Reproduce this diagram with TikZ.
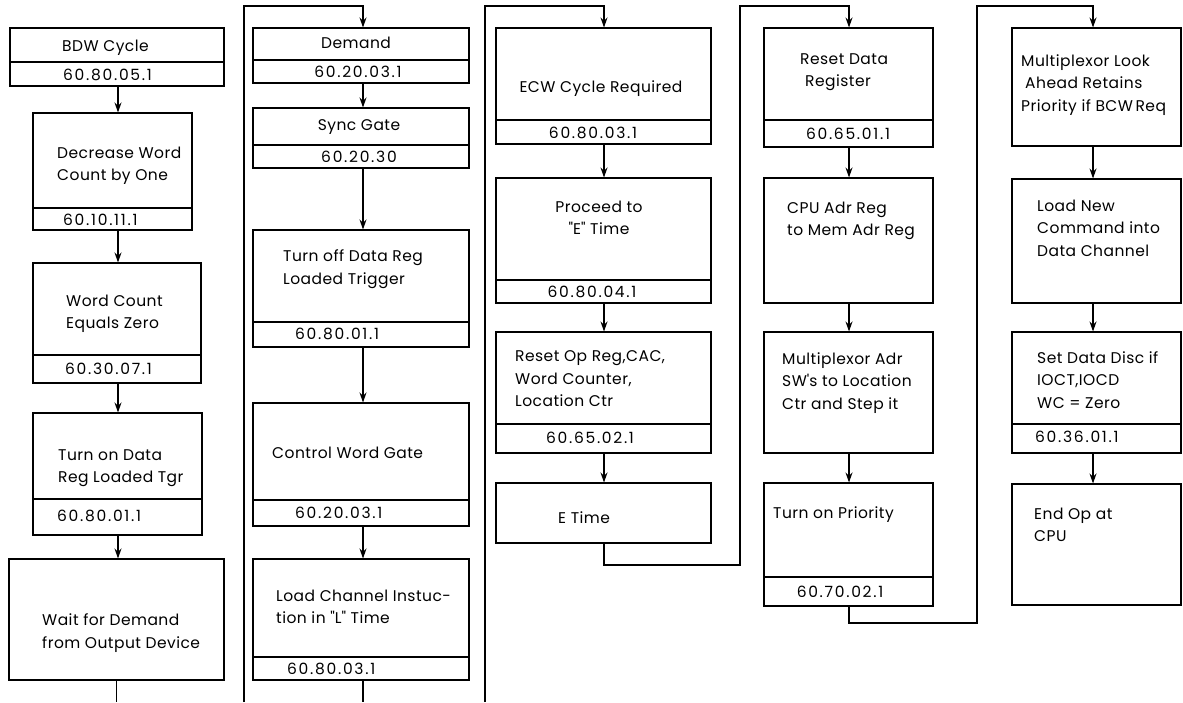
\documentclass[tikz,border=0pt]{standalone}
\usepackage{fontspec}
\setmainfont{Poppins}[LetterSpace=3]
\newfontfamily\numfamily{Poppins}[LetterSpace=11]
\usetikzlibrary{arrows.meta,fit}
\newcommand{\boxfont}{\fontsize{15.5}{22.5}\selectfont}
\newcommand{\numfont}{\numfamily\fontsize{15.5}{22.5}\selectfont}
\begin{document}
\begin{tikzpicture}[x=1pt,y=-1pt,
  box/.style={draw,line width=1.1pt,inner sep=0pt},
  lbl/.style={anchor=west,inner sep=0pt,align=left,font=\boxfont},
  clbl/.style={inner sep=0pt,align=center,font=\boxfont},
  nlbl/.style={anchor=west,inner sep=0pt,font=\numfont},
  cnlbl/.style={inner sep=0pt,font=\numfont},
  wire/.style={line width=1.1pt},
  arr/.style={wire,-{Stealth[length=10pt,width=7pt]}}]
\useasboundingbox (0,0) rectangle (1183,702);

% column axes for the vertical connectors
\coordinate (c1) at (118,0);
\coordinate (c2) at (363,0);
\coordinate (c3) at (604,0);
\coordinate (c4) at (849,0);
\coordinate (c5) at (1093,0);
\coordinate (bot) at (0,702);

% ---------- column 1 ----------
\node[box,fit={(10,28) (224,62)}] (bdw) {};
\node[box,fit={(10,62) (224,86)}] (bdwn) {};
\node[lbl] (bdwt) at (62,48) {BDW Cycle};
\node[nlbl] (bdwnt) at (63,75) {60.80.05.1};

\node[box,fit={(33,113) (192,208)}] (dec) {};
\node[box,fit={(33,208) (192,230)}] (decn) {};
\node[lbl] (dect) at (57,166) {Decrease Word\\Count by One};
\node[nlbl] (decnt) at (63,220) {60.10.11.1};

\node[box,fit={(33,263) (201,355)}] (wc) {};
\node[box,fit={(33,355) (201,383)}] (wcn) {};
\node[lbl] (wct) at (66,314) {Word Count\\Equals Zero};
\node[nlbl] (wcnt) at (65,369) {60.30.07.1};

\node[box,fit={(33,413) (202,499)}] (ton) {};
\node[box,fit={(33,499) (202,535)}] (tonn) {};
\node[lbl] (tont) at (58,468) {Turn on Data\\Reg Loaded Tgr};
\node[nlbl] (tonnt) at (57,516) {60.80.01.1};

\node[box,fit={(9,559) (224,680)}] (wait) {};
\node[lbl] (waitt) at (42,633) {Wait for Demand\\from Output Device};

\draw[arr] (bdwn.south -| c1) -- (dec.north -| c1);
\draw[arr] (decn.south -| c1) -- (wc.north -| c1);
\draw[arr] (wcn.south -| c1) -- (ton.north -| c1);
\draw[arr] (tonn.south -| c1) -- (wait.north -| c1);
\draw[wire] (wait.south) -- (wait.south |- bot);

% ---------- column 2 ----------
\node[box,fit={(253,28) (469,60)}] (dem) {};
\node[box,fit={(253,60) (469,83)}] (demn) {};
\node[clbl] (demt) at (356,43) {Demand};
\node[cnlbl] (demnt) at (358,72) {60.20.03.1};

\node[box,fit={(253,108) (469,145)}] (sync) {};
\node[box,fit={(253,145) (469,168)}] (syncn) {};
\node[clbl] (synct) at (359,127) {Sync Gate};
\node[cnlbl] (syncnt) at (359,157) {60.20.30};

\node[box,fit={(253,230) (469,322)}] (toff) {};
\node[box,fit={(253,322) (469,347)}] (toffn) {};
\node[lbl] (tofft) at (283,269) {Turn off Data Reg\\Loaded Trigger};
\node[nlbl] (toffnt) at (295,334) {60.80.01.1};

\node[box,fit={(253,403) (469,500)}] (cwg) {};
\node[box,fit={(253,500) (469,526)}] (cwgn) {};
\node[lbl] (cwgt) at (272,453) {Control Word Gate};
\node[nlbl] (cwgnt) at (295,513) {60.20.03.1};

\node[box,fit={(253,559) (469,657)}] (lci) {};
\node[box,fit={(253,657) (469,680)}] (lcin) {};
\node[lbl] (lcit) at (276,607) {Load Channel Instuc-\\tion in \textquotedbl L\textquotedbl{} Time};
\node[nlbl] (lcint) at (287,669) {60.80.03.1};

\coordinate (l2b) at (244,702);
\coordinate (l2t) at (244,6);
\draw[arr] (l2b) -- (l2t) -| (dem.north -| c2);
\draw[arr] (demn.south -| c2) -- (sync.north -| c2);
\draw[arr] (syncn.south -| c2) -- (toff.north -| c2);
\draw[arr] (toffn.south -| c2) -- (cwg.north -| c2);
\draw[arr] (cwgn.south -| c2) -- (lci.north -| c2);
\draw[wire] (lcin.south -| c2) -- (c2 |- bot);

% ---------- column 3 ----------
\node[box,fit={(496,28) (711,120)}] (ecw) {};
\node[box,fit={(496,120) (711,144)}] (ecwn) {};
\node[clbl] (ecwt) at (601,89) {ECW Cycle Required};
\node[cnlbl] (ecwnt) at (593,133) {60.80.03.1};

\node[box,fit={(496,178) (711,280)}] (pro) {};
\node[box,fit={(496,280) (711,303)}] (pron) {};
\node[clbl] (prot) at (599,218) {Proceed to\\\textquotedbl E\textquotedbl{} Time};
\node[cnlbl] (pront) at (592,292) {60.80.04.1};

\node[box,fit={(496,332) (711,424)}] (rst) {};
\node[box,fit={(496,424) (711,453)}] (rstn) {};
\node[lbl] (rstt) at (515,379) {Reset Op Reg,CAC,\\Word Counter,\\Location Ctr};
\node[cnlbl] (rstnt) at (590,438) {60.65.02.1};

\node[box,fit={(496,483) (711,543)}] (et) {};
\node[lbl] (ett) at (558,518) {E Time};

\coordinate (l3b) at (485,702);
\coordinate (l3t) at (485,6);
\draw[arr] (l3b) -- (l3t) -| (ecw.north -| c3);
\draw[arr] (ecwn.south -| c3) -- (pro.north -| c3);
\draw[arr] (pron.south -| c3) -- (rst.north -| c3);
\draw[arr] (rstn.south -| c3) -- (et.north -| c3);

% ---------- column 4 ----------
\node[box,fit={(764,28) (933,120)}] (rd) {};
\node[box,fit={(764,120) (933,147)}] (rdn) {};
\node[lbl] (rdt) at (800,72) {Reset Data\\\hspace*{5pt}Register};
\node[cnlbl] (rdnt) at (848,134) {60.65.01.1};

\node[box,fit={(764,178) (933,303)}] (cpu) {};
\node[lbl] (cput) at (787,221) {CPU Adr Reg\\to Mem Adr Reg};

\node[box,fit={(764,332) (933,453)}] (mux) {};
\node[lbl] (muxt) at (782,383) {Multiplexor Adr\\SW\textquotesingle s to Location\\Ctr and Step it};

\node[box,fit={(764,483) (933,577)}] (pri) {};
\node[box,fit={(764,577) (933,606)}] (prin) {};
\node[lbl] (prit) at (773,515) {Turn on Priority};
\node[cnlbl] (print) at (840,592) {60.70.02.1};

\coordinate (l4a) at (740,565);
\coordinate (l4t) at (740,6);
\draw[arr] (et.south -| c3) |- (l4a) -- (l4t) -| (rd.north -| c4);
\draw[arr] (rdn.south -| c4) -- (cpu.north -| c4);
\draw[arr] (cpu.south -| c4) -- (mux.north -| c4);
\draw[arr] (mux.south -| c4) -- (pri.north -| c4);

% ---------- column 5 ----------
\node[box,fit={(1012,28) (1181,146)}] (mla) {};
\node[lbl] (mlat) at (1021,85) {Multiplexor Look\\\hspace*{4pt}Ahead Retains\\Priority if BCW\,Req};

\node[box,fit={(1012,179) (1181,303)}] (lnc) {};
\node[lbl] (lnct) at (1037,228) {Load New\\Command into\\Data Channel};

\node[box,fit={(1012,332) (1181,424)}] (sdd) {};
\node[box,fit={(1012,424) (1181,453)}] (sddn) {};
\node[lbl] (sddt) at (1037,380) {Set Data Disc if\\IOCT,IOCD\\WC = Zero};
\node[nlbl] (sddnt) at (1035,437) {60.36.01.1};

\node[box,fit={(1012,484) (1181,605)}] (eop) {};
\node[lbl] (eopt) at (1034,525) {End Op at\\CPU};

\coordinate (l5a) at (977,623);
\coordinate (l5t) at (977,6);
\draw[arr] (prin.south -| c4) |- (l5a) -- (l5t) -| (mla.north -| c5);
\draw[arr] (mla.south -| c5) -- (lnc.north -| c5);
\draw[arr] (lnc.south -| c5) -- (sdd.north -| c5);
\draw[arr] (sddn.south -| c5) -- (eop.north -| c5);
\end{tikzpicture}
\end{document}
